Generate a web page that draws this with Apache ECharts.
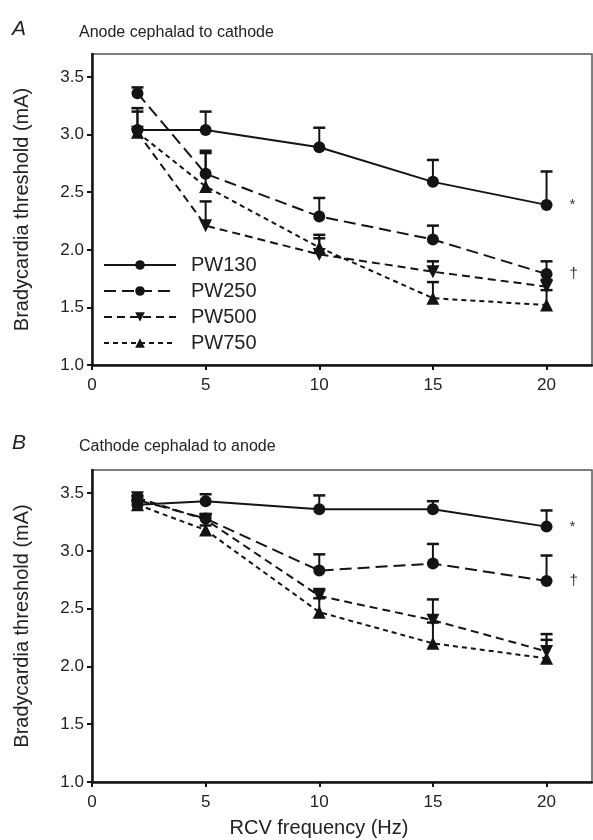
<!DOCTYPE html>
<html>
<head>
<meta charset="utf-8">
<script src="https://cdn.jsdelivr.net/npm/echarts@6/dist/echarts.min.js"></script>
<style>
  html, body { margin: 0; padding: 0; background: #fff; }
  #chart { width: 593px; height: 840px; }
</style>
</head>
<body>
<div id="chart"></div>
<script>
// stimulation frequency (Hz)
const freq = [2, 5, 10, 15, 20];
const xTicks = [0, 5, 10, 15, 20];
const yTicks = [1.0, 1.5, 2.0, 2.5, 3.0, 3.5];
const seriesNames = ['PW130', 'PW250', 'PW500', 'PW750'];

// panel A: anode cephalad to cathode (mean, SE)
const aPW130 = [3.04, 3.04, 2.89, 2.59, 2.39];
const aPW130se = [0.19, 0.16, 0.17, 0.19, 0.29];
const aPW250 = [3.36, 2.66, 2.29, 2.09, 1.79];
const aPW250se = [0.05, 0.20, 0.16, 0.12, 0.11];
const aPW500 = [3.02, 2.21, 1.96, 1.81, 1.68];
const aPW500se = [0.18, 0.21, 0.17, 0.09, 0.06];
const aPW750 = [3.02, 2.55, 2.02, 1.58, 1.52];
const aPW750se = [0.03, 0.29, 0.08, 0.14, 0.13];

// panel B: cathode cephalad to anode (mean, SE)
const bPW130 = [3.40, 3.43, 3.36, 3.36, 3.21];
const bPW130se = [0.04, 0.06, 0.12, 0.07, 0.14];
const bPW250 = [3.44, 3.28, 2.83, 2.89, 2.74];
const bPW250se = [0.03, 0.04, 0.14, 0.17, 0.22];
const bPW500 = [3.46, 3.27, 2.61, 2.40, 2.13];
const bPW500se = [0.02, 0.04, 0.06, 0.18, 0.15];
const bPW750 = [3.40, 3.18, 2.47, 2.20, 2.07];
const bPW750se = [0.03, 0.04, 0.12, 0.18, 0.16];

const ink = '#141414';
const font = '"Liberation Sans", Arial, Helvetica, sans-serif';

// marker + dash per pulse width
const styles = {
  PW130: { symbol: 'circle', size: 12, rotate: 0, dash: 'solid', mark: '*' },
  PW250: { symbol: 'circle', size: 12, rotate: 0, dash: [12, 6], mark: '†' },
  PW500: { symbol: 'triangle', size: 13, rotate: 180, dash: [8, 5], mark: null },
  PW750: { symbol: 'triangle', size: 13, rotate: 0, dash: [5, 4], mark: null },
};

const lineSeries = (name, means, g) => {
  const s = styles[name];
  return {
    type: 'line',
    name: name,
    xAxisIndex: g,
    yAxisIndex: g,
    symbol: s.symbol,
    symbolSize: s.size,
    symbolRotate: s.rotate,
    showAllSymbol: true,
    lineStyle: { color: ink, width: 2, type: s.dash },
    itemStyle: { color: ink },
    z: 3,
    silent: true,
    data: freq.map((f, i) => {
      if (s.mark && i === freq.length - 1) {
        return {
          value: [f, means[i]],
          label: {
            show: true,
            position: 'right',
            distance: 17,
            formatter: s.mark,
            color: '#333',
            fontFamily: font,
            fontSize: 15,
          },
        };
      }
      return [f, means[i]];
    }),
  };
};

// upward error bars with caps
const errorSeries = (name, means, ses, g) => ({
  type: 'custom',
  name: 'err-' + name,
  xAxisIndex: g,
  yAxisIndex: g,
  silent: true,
  z: 2,
  data: freq.map((f, i) => [f, means[i], means[i] + ses[i]]),
  renderItem: (params, api) => {
    const base = api.coord([api.value(0), api.value(1)]);
    const top = api.coord([api.value(0), api.value(2)]);
    const hw = 6;
    return {
      type: 'group',
      children: [
        {
          type: 'line',
          shape: { x1: base[0], y1: base[1], x2: top[0], y2: top[1] },
          style: { stroke: ink, lineWidth: 2 },
        },
        {
          type: 'line',
          shape: { x1: top[0] - hw, y1: top[1], x2: top[0] + hw, y2: top[1] },
          style: { stroke: ink, lineWidth: 2.5 },
        },
      ],
    };
  },
});

const xAxis = (g, withName) => ({
  type: 'value',
  gridIndex: g,
  min: 0,
  max: 22,
  interval: 5,
  name: withName ? 'RCV frequency (Hz)' : '',
  nameLocation: 'middle',
  nameGap: 36,
  nameTextStyle: { color: '#222', fontFamily: font, fontSize: 20, padding: [0, 46, 0, 0] },
  axisLine: { show: true, lineStyle: { color: ink, width: 2.5 } },
  axisTick: { show: true, inside: false, length: 5, customValues: xTicks, lineStyle: { color: ink, width: 2 } },
  axisLabel: { color: '#222', fontFamily: font, fontSize: 17, margin: 12, customValues: xTicks },
  splitLine: { show: false },
});

const yAxis = (g) => ({
  type: 'value',
  gridIndex: g,
  min: 1.0,
  max: 3.7,
  name: 'Bradycardia threshold (mA)',
  nameLocation: 'middle',
  nameGap: 60,
  nameTextStyle: { color: '#222', fontFamily: font, fontSize: 20 },
  axisLine: { show: true, lineStyle: { color: ink, width: 2.5 } },
  axisTick: { show: true, inside: false, length: 5, customValues: yTicks, lineStyle: { color: ink, width: 2 } },
  axisLabel: {
    color: '#222',
    fontFamily: font,
    fontSize: 17,
    margin: 8,
    customValues: yTicks,
    formatter: (v) => v.toFixed(1),
  },
  splitLine: { show: false },
});

const chart = echarts.init(document.getElementById('chart'));

chart.setOption({
  animation: false,
  backgroundColor: '#fff',
  title: [
    { text: 'A', left: 7, top: 14, textStyle: { fontFamily: font, fontSize: 21, fontStyle: 'italic', fontWeight: 'normal', color: '#222' } },
    { text: 'Anode cephalad to cathode', left: 74, top: 20, textStyle: { fontFamily: font, fontSize: 16, fontWeight: 'normal', color: '#222' } },
    { text: 'B', left: 7, top: 428, textStyle: { fontFamily: font, fontSize: 21, fontStyle: 'italic', fontWeight: 'normal', color: '#222' } },
    { text: 'Cathode cephalad to anode', left: 74, top: 434, textStyle: { fontFamily: font, fontSize: 16, fontWeight: 'normal', color: '#222' } },
  ],
  legend: {
    data: seriesNames,
    orient: 'vertical',
    left: 98,
    top: 250,
    itemWidth: 72,
    itemHeight: 12,
    itemGap: 6,
    selectedMode: false,
    textStyle: { fontFamily: font, fontSize: 20, color: '#222', padding: [0, 0, 0, 10] },
  },
  grid: [
    { left: 92, right: 1, top: 54, height: 311, outerBoundsMode: 'none', show: true, borderColor: '#555', borderWidth: 1.5, backgroundColor: 'transparent' },
    { left: 92, right: 1, top: 470, height: 312, outerBoundsMode: 'none', show: true, borderColor: '#555', borderWidth: 1.5, backgroundColor: 'transparent' },
  ],
  xAxis: [xAxis(0, false), xAxis(1, true)],
  yAxis: [yAxis(0), yAxis(1)],
  series: [
    errorSeries('PW130', aPW130, aPW130se, 0),
    errorSeries('PW250', aPW250, aPW250se, 0),
    errorSeries('PW500', aPW500, aPW500se, 0),
    errorSeries('PW750', aPW750, aPW750se, 0),
    lineSeries('PW130', aPW130, 0),
    lineSeries('PW250', aPW250, 0),
    lineSeries('PW500', aPW500, 0),
    lineSeries('PW750', aPW750, 0),
    errorSeries('PW130', bPW130, bPW130se, 1),
    errorSeries('PW250', bPW250, bPW250se, 1),
    errorSeries('PW500', bPW500, bPW500se, 1),
    errorSeries('PW750', bPW750, bPW750se, 1),
    lineSeries('PW130', bPW130, 1),
    lineSeries('PW250', bPW250, 1),
    lineSeries('PW500', bPW500, 1),
    lineSeries('PW750', bPW750, 1),
  ],
});
</script>
</body>
</html>
